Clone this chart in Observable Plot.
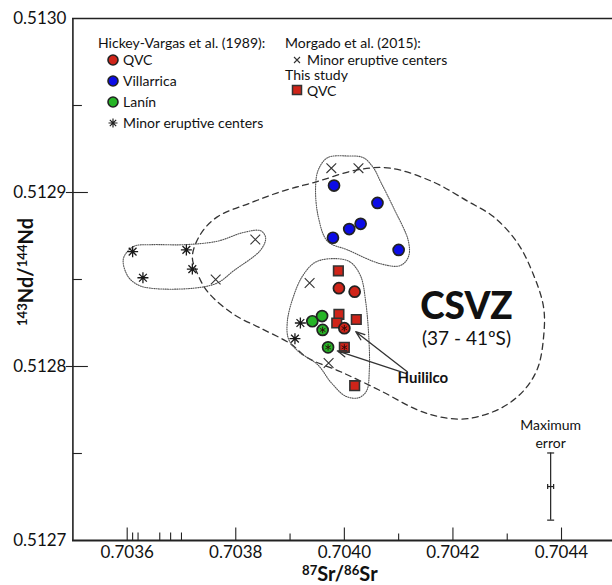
<!DOCTYPE html>
<html><head><meta charset="utf-8">
<script src="https://cdn.jsdelivr.net/npm/d3@7"></script>
<script src="https://cdn.jsdelivr.net/npm/@observablehq/plot@0.6"></script>
<style>
body{margin:0;background:#fff;}
#wrap{position:relative;width:612px;height:585px;font-family:Lato,"Open Sans",sans-serif;color:#111;}
#wrap svg{position:absolute;left:0;top:0;}
.ttl{position:absolute;font-weight:bold;font-size:20px;white-space:nowrap;line-height:1;}
.ttl sup{font-size:0.66em;vertical-align:0.45em;line-height:0;}
</style></head><body><div id="wrap"></div>
<script>
// ---- data (87Sr/86Sr , 143Nd/144Nd) ----
const hvQVC = [[0.703990,0.512845],[0.704019,0.512843],[0.704000,0.512822]];
const hvVillarrica = [[0.703981,0.512904],[0.704061,0.512894],[0.704030,0.512882],[0.704009,0.512879],[0.703979,0.512874],[0.704100,0.512867]];
const hvLanin = [[0.703941,0.512826],[0.703959,0.512829],[0.703960,0.512821],[0.703970,0.512811]];
const hvMinor = [[0.703610,0.512866],[0.703629,0.512851],[0.703709,0.512867],[0.703720,0.512856],[0.703919,0.512825],[0.703909,0.512816]];
const morgadoMinor = [[0.703836,0.512873],[0.703763,0.512850],[0.703976,0.512914],[0.704026,0.512914],[0.703936,0.512848],[0.703971,0.512802]];
const studyQVC = [[0.703989,0.512855],[0.703990,0.512830],[0.703986,0.512825],[0.704022,0.512827],[0.704000,0.512811],[0.704019,0.512789]];
const huililco = [[0.704000,0.512822],[0.703970,0.512811],[0.703960,0.512821],[0.704000,0.512811]];

// field outlines
const csvzField = [[0.703720,0.512863],[0.703735,0.512876],[0.703766,0.512886],[0.703827,0.512894],[0.703888,0.512901],[0.703947,0.512906],[0.704024,0.512913],[0.704085,0.512914],[0.704164,0.512906],[0.704227,0.512895],[0.704275,0.512886],[0.704319,0.512871],[0.704348,0.512853],[0.704367,0.512834],[0.704367,0.512817],[0.704356,0.512799],[0.704330,0.512786],[0.704288,0.512776],[0.704227,0.512770],[0.704177,0.512771],[0.704135,0.512775],[0.704067,0.512786],[0.703993,0.512797],[0.703932,0.512805],[0.703901,0.512813],[0.703846,0.512822],[0.703796,0.512830],[0.703748,0.512843],[0.703730,0.512853]];
const minorField = [[0.703593,0.512862],[0.703612,0.512869],[0.703643,0.512870],[0.703704,0.512870],[0.703766,0.512872],[0.703814,0.512877],[0.703846,0.512878],[0.703855,0.512874],[0.703846,0.512867],[0.703796,0.512855],[0.703766,0.512848],[0.703722,0.512845],[0.703643,0.512845],[0.703619,0.512847],[0.703601,0.512852]];
const villarricaField = [[0.703969,0.512920],[0.704006,0.512921],[0.704035,0.512920],[0.704054,0.512914],[0.704067,0.512906],[0.704091,0.512891],[0.704118,0.512872],[0.704118,0.512863],[0.704103,0.512858],[0.704067,0.512859],[0.704006,0.512867],[0.703969,0.512872],[0.703952,0.512886],[0.703947,0.512903],[0.703952,0.512913]];
const qvcField = [[0.703984,0.512862],[0.704011,0.512860],[0.704030,0.512852],[0.704039,0.512838],[0.704045,0.512817],[0.704046,0.512798],[0.704041,0.512786],[0.704026,0.512782],[0.704002,0.512783],[0.703975,0.512791],[0.703951,0.512801],[0.703914,0.512809],[0.703897,0.512816],[0.703895,0.512826],[0.703906,0.512840],[0.703923,0.512852],[0.703947,0.512860]];

// annotations
const arrows = [{x1:0.704116,y1:0.512797,x2:0.704021,y2:0.512820},{x1:0.704113,y1:0.512796,x2:0.703987,y2:0.512809}];
const csvzLabel = [{x:0.704225,y:0.512834,text:"CSVZ"}];
const csvzRange = [{x:0.704225,y:0.512816,text:"(37 - 41ºS)"}];
const huililcoLabel = [{x:0.704098,y:0.512793,text:"Huililco"}];
const errLabel = [{x:0.704380,y:0.512766,text:"Maximum"},{x:0.704380,y:0.512756,text:"error"}];
const maxErr = [{x:0.704380,y:0.512731,ex:0.0000055,ey:0.0000193}];

// axes
const xDomain = [0.7035, 0.7045];
const yDomain = [0.5127, 0.5130];
const xMajorTicks = [0.7036,0.7038,0.7040,0.7042,0.7044];
const xMinorTicks = [0.7039,0.7041,0.7043];
const xRugTicks = [0.70361,0.70362,0.70366,0.70368,0.7037];
const yLabelTicks = [0.5127,0.5128,0.5129,0.5130];
const yMajorTicks = [0.5128,0.5129];
const yMinorTicks = [0.51275,0.51285,0.51295];

const legendHV = ["QVC","Villarrica","Lanín","Minor eruptive centers"];
const legendHVTitle = "Hickey-Vargas et al. (1989):";
const legendMTitle = "Morgado et al. (2015):";
const legendMItem = "Minor eruptive centers";
const legendSTitle = "This study";
const legendSItem = "QVC";

// ---- styles ----
const RED = "#cf2419", BLUE = "#0c0ce6", GREEN = "#26b526", INK = "#222";
const rad = s => Math.sqrt(s / Math.PI);
const tickUp = {draw(c, s){const r = rad(s); c.moveTo(0,0); c.lineTo(0,-r);}};
const tickRight = {draw(c, s){const r = rad(s); c.moveTo(0,0); c.lineTo(r,0);}};
const tickCross = {draw(c, s){const r = rad(s); c.moveTo(-r*0.47,0); c.lineTo(r,0);}};
const hLine = {draw(c, s){const r = rad(s); c.moveTo(-r,0); c.lineTo(r,0);}};
const vLine = {draw(c, s){const r = rad(s); c.moveTo(0,-r); c.lineTo(0,r);}};
const star8 = {draw(c, s){const r = rad(s); for (let k = 0; k < 4; k++){const a = k*Math.PI/4, dx = r*Math.cos(a), dy = r*Math.sin(a); c.moveTo(-dx,-dy); c.lineTo(dx,dy);}}};
const X = d => d[0], Y = d => d[1];

const bottom = yDomain[0], left = xDomain[0];
const plot = Plot.plot({
  width: 612, height: 585,
  marginTop: 18, marginBottom: 45, marginLeft: 72, marginRight: 0,
  style: {fontFamily: "Lato, 'Open Sans', sans-serif", fontSize: "17px", color: "#111", background: "transparent"},
  x: {domain: xDomain, range: [72.4, 615.3]},
  y: {domain: yDomain},
  marks: [
    // frame
    Plot.ruleY([yDomain[1]], {stroke: INK, strokeWidth: 1.3}),
    Plot.ruleX([left], {stroke: INK, strokeWidth: 1.6}),
    Plot.ruleY([bottom], {stroke: INK, strokeWidth: 2}),
    // ticks
    Plot.dot(xMajorTicks, {x: d => d, y: () => bottom, symbol: tickUp, r: 13, fill: "none", stroke: INK, strokeWidth: 1.1}),
    Plot.dot(xMinorTicks, {x: d => d, y: () => bottom, symbol: tickUp, r: 7, fill: "none", stroke: INK, strokeWidth: 1.1}),
    Plot.dot(xRugTicks, {x: d => d, y: () => bottom, symbol: tickUp, r: 8, fill: "none", stroke: INK, strokeWidth: 1.1}),
    Plot.dot(yMajorTicks, {x: () => left, y: d => d, symbol: tickCross, r: 15, fill: "none", stroke: INK, strokeWidth: 1.1}),
    Plot.dot(yMinorTicks, {x: () => left, y: d => d, symbol: tickRight, r: 9, fill: "none", stroke: INK, strokeWidth: 1.1}),
    Plot.axisX({ticks: xMajorTicks, tickSize: 0, tickPadding: 5, tickFormat: d3.format(".4f"), fontSize: 17, label: null}),
    Plot.axisY({ticks: yLabelTicks, tickSize: 0, tickPadding: 6, tickFormat: d3.format(".4f"), fontSize: 17, label: null}),
    // fields
    Plot.line(csvzField, {x: X, y: Y, curve: "catmull-rom-closed", stroke: "#333", strokeWidth: 1.3, strokeDasharray: "6,4.5"}),
    Plot.line(minorField, {x: X, y: Y, curve: "catmull-rom-closed", stroke: "#555", strokeWidth: 1.1, strokeDasharray: "1,1.3"}),
    Plot.line(villarricaField, {x: X, y: Y, curve: "catmull-rom-closed", stroke: "#555", strokeWidth: 1.1, strokeDasharray: "1,1.3"}),
    Plot.line(qvcField, {x: X, y: Y, curve: "catmull-rom-closed", stroke: "#555", strokeWidth: 1.1, strokeDasharray: "1,1.3"}),
    // points
    Plot.dot(morgadoMinor, {x: X, y: Y, symbol: "times", r: 4.5, stroke: "#333", strokeWidth: 1.1}),
    Plot.dot(hvMinor, {x: X, y: Y, symbol: star8, r: 5.5, fill: "none", stroke: "#1a1a1a", strokeWidth: 1.3}),
    Plot.dot(hvVillarrica, {x: X, y: Y, r: 5.5, fill: BLUE, stroke: INK, strokeWidth: 1.7}),
    Plot.dot(studyQVC, {x: X, y: Y, symbol: "square", r: 5.4, fill: RED, stroke: "#333", strokeWidth: 1.6}),
    Plot.dot(hvQVC, {x: X, y: Y, r: 5.5, fill: RED, stroke: INK, strokeWidth: 1.7}),
    Plot.dot(hvLanin, {x: X, y: Y, r: 5.5, fill: GREEN, stroke: INK, strokeWidth: 1.7}),
    Plot.dot(huililco, {x: X, y: Y, symbol: "asterisk", r: 3, fill: "none", stroke: "#2a0a0a", strokeWidth: 0.9}),
    // arrows & labels
    Plot.arrow(arrows, {x1: "x1", y1: "y1", x2: "x2", y2: "y2", stroke: "#333", strokeWidth: 1.3, headLength: 11, headAngle: 40, bend: 0}),
    Plot.text(csvzLabel, {x: "x", y: "y", text: "text", fontSize: 37, fontWeight: 900, fill: "#111"}),
    Plot.text(csvzRange, {x: "x", y: "y", text: "text", fontSize: 19, fill: "#111"}),
    Plot.text(huililcoLabel, {x: "x", y: "y", text: "text", fontSize: 15, fontWeight: "bold", textAnchor: "start", fill: "#111"}),
    Plot.text(errLabel, {x: "x", y: "y", text: "text", fontSize: 14, fill: "#111"}),
    // maximum error bar
    Plot.ruleX(maxErr, {x: "x", y1: d => d.y - d.ey, y2: d => d.y + d.ey, stroke: INK, strokeWidth: 1.2}),
    Plot.dot(maxErr, {x: "x", y: d => d.y - d.ey, symbol: hLine, r: 3.5, fill: "none", stroke: INK, strokeWidth: 1.2}),
    Plot.dot(maxErr, {x: "x", y: d => d.y + d.ey, symbol: hLine, r: 3.5, fill: "none", stroke: INK, strokeWidth: 1.2}),
    Plot.ruleY(maxErr, {y: "y", x1: d => d.x - d.ex, x2: d => d.x + d.ex, stroke: INK, strokeWidth: 1.2}),
    Plot.dot(maxErr, {x: d => d.x - d.ex, y: "y", symbol: vLine, r: 2.5, fill: "none", stroke: INK, strokeWidth: 1.2}),
    Plot.dot(maxErr, {x: d => d.x + d.ex, y: "y", symbol: vLine, r: 2.5, fill: "none", stroke: INK, strokeWidth: 1.2})
  ]
});
const wrap = document.getElementById("wrap");
wrap.appendChild(plot);

// legend overlay
const lg = d3.select(wrap).append("svg").attr("width", 612).attr("height", 140)
  .style("font-family", "Lato, 'Open Sans', sans-serif").style("font-size", "14px").attr("fill", "#111");
lg.append("text").attr("x", 98).attr("y", 48).text(legendHVTitle);
const hvSym = [RED, BLUE, GREEN, null];
legendHV.forEach((t, i) => {
  const cy = 60 + i * 21;
  if (hvSym[i]) lg.append("circle").attr("cx", 113).attr("cy", cy).attr("r", 5).attr("fill", hvSym[i]).attr("stroke", INK).attr("stroke-width", 1.6);
  else { const p = d3.path(); star8.draw(p, 4.5*4.5*Math.PI); lg.append("path").attr("transform", `translate(113,${cy})`).attr("d", p.toString()).attr("fill", "none").attr("stroke", "#222").attr("stroke-width", 1.2); }
  lg.append("text").attr("x", 123).attr("y", cy + 5).text(t);
});
lg.append("text").attr("x", 285).attr("y", 48).text(legendMTitle);
lg.append("path").attr("d", "M294,57L300,63M300,57L294,63").attr("stroke", "#333").attr("stroke-width", 1.1);
lg.append("text").attr("x", 307).attr("y", 65).text(legendMItem);
lg.append("text").attr("x", 285).attr("y", 80).text(legendSTitle);
lg.append("rect").attr("x", 292.5).attr("y", 85.5).attr("width", 9).attr("height", 9).attr("fill", RED).attr("stroke", "#333").attr("stroke-width", 1.5);
lg.append("text").attr("x", 307).attr("y", 96).text(legendSItem);

// axis titles with superscripts
const xt = document.createElement("div");
xt.className = "ttl"; xt.innerHTML = "<sup>87</sup>Sr/<sup>86</sup>Sr";
wrap.appendChild(xt);
xt.style.left = (340 - xt.offsetWidth / 2) + "px"; xt.style.top = "563px";
const yt = document.createElement("div");
yt.className = "ttl"; yt.innerHTML = "<sup>143</sup>Nd/<sup>144</sup>Nd";
wrap.appendChild(yt);
yt.style.left = (25 - yt.offsetWidth / 2) + "px"; yt.style.top = (272 - yt.offsetHeight / 2) + "px";
yt.style.transform = "rotate(-90deg)";
</script></body></html>
